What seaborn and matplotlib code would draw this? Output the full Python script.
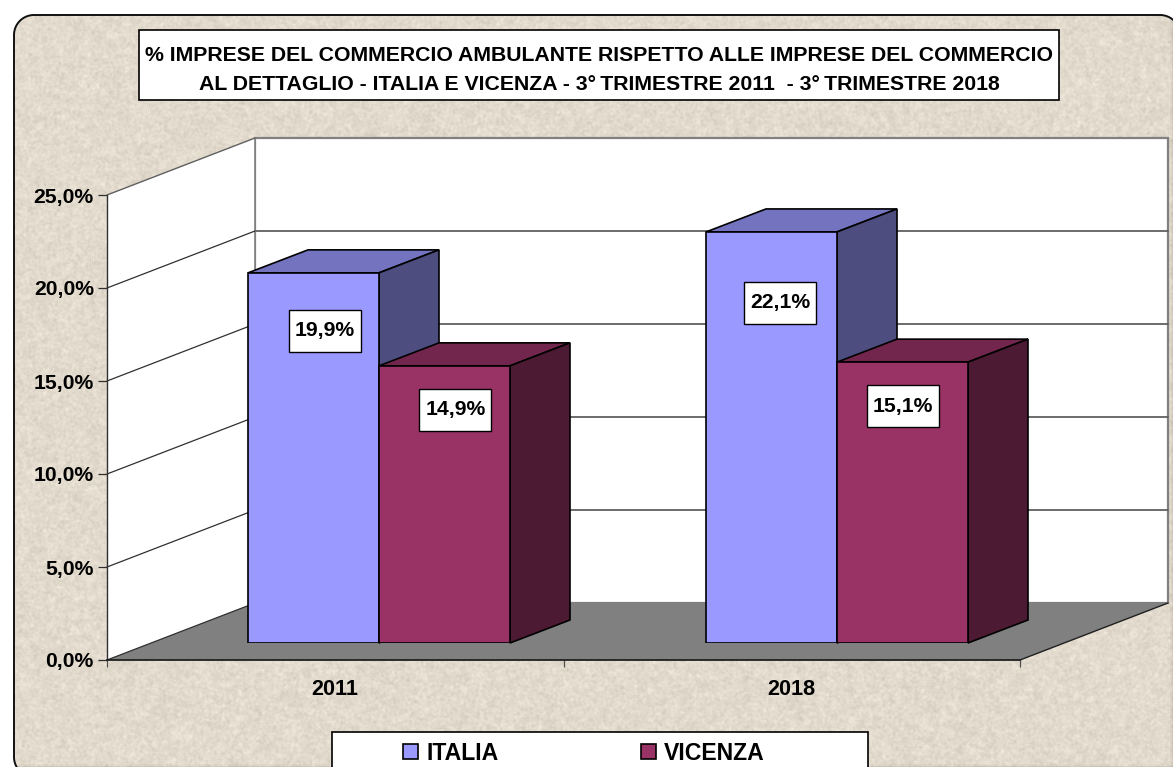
import numpy as np
import pandas as pd
import matplotlib
matplotlib.use('Agg')
import matplotlib.pyplot as plt
import seaborn as sns
from matplotlib.patches import Polygon, Rectangle
from matplotlib.transforms import Affine2D
from matplotlib.colors import to_rgb
from matplotlib.ticker import FuncFormatter

# dati
anni = ['2011', '2018']
italia = [19.9, 22.1]
vicenza = [14.9, 15.1]
aree = ['ITALIA', 'VICENZA']
y_ticks = [0, 5, 10, 15, 20, 25]
titolo = ('% IMPRESE DEL COMMERCIO AMBULANTE RISPETTO ALLE IMPRESE DEL COMMERCIO\n'
          'AL DETTAGLIO - ITALIA E VICENZA - 3°\u2009TRIMESTRE 2011  - 3°\u2009TRIMESTRE 2018')

df = pd.DataFrame({'anno': anni * 2,
                   'quota': italia + vicenza,
                   'area': [aree[0]] * 2 + [aree[1]] * 2})

W, H = 1173, 767
col_it = '#9999FF'
col_vi = '#993366'

sns.set_theme(style='white')
plt.rcParams['font.family'] = ['Liberation Sans', 'DejaVu Sans']
plt.rcParams['font.weight'] = 'bold'

fig = plt.figure(figsize=(W / 100, H / 100), dpi=100, facecolor='white')


def px_axes(x0, x1, y_top, y_bot):
    # axes da coordinate in pixel dell'immagine
    return fig.add_axes([x0 / W, 1 - y_bot / H, (x1 - x0) / W, (y_bot - y_top) / H])


def shift(ax, dx, dy):
    # spostamento in pixel per le facce in prospettiva
    return ax.transData + Affine2D().translate(dx, dy)


def depth(ax, dx, dy):
    # lo stesso spostamento espresso nelle unita' dell'asse
    inv = ax.transData.inverted()
    return inv.transform((dx, dy)) - inv.transform((0, 0))


# sfondo marmorizzato
ax_bg = px_axes(0, W, 0, H)
ax_bg.set_xlim(0, W)
ax_bg.set_ylim(H, 0)
ax_bg.axis('off')


def grana(sx, sy, k):
    yy, xx = np.mgrid[0:H, 0:W]
    n = np.sin(xx * sx + yy * sy) * 43758.5453
    n = n - np.floor(n)
    ker = np.ones(k) / k
    n = np.apply_along_axis(lambda r: np.convolve(r, ker, mode='same'), 1, n)
    n = np.apply_along_axis(lambda r: np.convolve(r, ker, mode='same'), 0, n)
    return (n - n.mean()) / n.std()


def arco(cx, cy, r, a0, a1):
    a = np.radians(np.linspace(a0, a1, 30))
    return np.column_stack([cx + r * np.cos(a), cy + r * np.sin(a)])


tex = 4 * grana(12.9898, 78.233, 3) + 2.5 * grana(4.1414, 31.337, 7)
base = np.array([225, 218, 205], dtype=float)
img = np.clip(base[None, None, :] + tex[:, :, None], 0, 255) / 255
im = ax_bg.imshow(img, extent=(0, W, H, 0), aspect='auto', zorder=0, interpolation='nearest')
ax_bg.set_xlim(0, W)
ax_bg.set_ylim(H, 0)

# cornice arrotondata, l'angolo in basso a destra resta fuori dall'immagine
r = 20
bordo = np.vstack([arco(14 + r, 15 + r, r, 180, 270),
                   arco(1180 - r, 15 + r, r, 270, 360),
                   [(1180, H + 30), (14 + r, H + 30)][:1],
                   arco(14 + r, 777 - r, r, 90, 180)])
frame = Polygon(bordo, closed=False, fc='none', ec='#111111', lw=1.4, zorder=3, clip_on=True)
ax_bg.add_patch(frame)
zona = Polygon(np.vstack([bordo, bordo[:1]]), closed=True, fc='none', ec='none',
               transform=ax_bg.transData)
ax_bg.add_patch(zona)
im.set_clip_path(zona)
ax_bg.plot(*np.vstack([bordo[-1:], bordo[:1]]).T, color='#111111', lw=1.4, zorder=3)

# box del titolo e della legenda
ax_bg.add_patch(Rectangle((139, 30), 920, 70, fc='white', ec='black', lw=1.2, zorder=4))
ax_bg.text(599, 70, titolo, ha='center', va='center', fontsize=15.3, fontweight='bold',
           linespacing=1.62, color='black', zorder=5)
ax_bg.add_patch(Rectangle((332, 732), 536, 60, fc='white', ec='black', lw=1.2, zorder=4))

# piano frontale: assi, pareti e pavimento
ax = px_axes(107, 1020, 195, 660)
ax.set_xlim(-0.5, 1.5)
ax.set_ylim(0, 25)
ax.patch.set_alpha(0)
sns.despine(ax=ax, top=True, right=True)
ax.spines['left'].set_color('#303030')
ax.spines['bottom'].set_color('#202020')
ax.spines['left'].set_linewidth(1)
ax.spines['bottom'].set_linewidth(1.3)
ax.set_yticks(y_ticks)
ax.yaxis.set_major_formatter(FuncFormatter(lambda v, p: f'{v:.1f}%'.replace('.', ',')))
ax.set_xticks([-0.5, 0.5, 1.5])
ax.set_xticklabels([])
ax.set_xticks([0, 1], labels=anni, minor=True)
ax.tick_params(axis='y', left=True, length=6.5, width=0.9, color='#303030', pad=3, labelsize=15.2)
ax.tick_params(axis='x', which='major', bottom=True, length=5, width=0.9, color='#505050')
ax.tick_params(axis='x', which='minor', bottom=True, length=0, pad=14, labelsize=15.6)
for t in ax.get_yticklabels() + ax.get_xticklabels(minor=True):
    t.set_fontweight('bold')
    t.set_color('black')

dx_wall, dy_wall = 148, 57
back = shift(ax, dx_wall, dy_wall)
x0, x1 = ax.get_xlim()
y1 = max(y_ticks)
step = depth(ax, dx_wall, dy_wall)

ax.add_patch(Rectangle((x0, 0), x1 - x0, y1, transform=back, fc='white', ec='#808080', lw=1.6,
                       zorder=0.5, clip_on=False))
ax.add_patch(Polygon([(x0, 0), (x0 + step[0], step[1]), (x0 + step[0], y1 + step[1]), (x0, y1)],
                     fc='white', ec='none', zorder=0.55, clip_on=False))
for v in y_ticks[1:-1]:
    ax.plot([x0, x1], [v, v], transform=back, color='#606060', lw=1.3, zorder=0.6, clip_on=False)
ax.plot([x0, x0], [0, y1], transform=back, color='#808080', lw=1.2, zorder=0.6, clip_on=False)
ax.add_patch(Polygon([(x0, 0), (x1, 0), (x1 + step[0], step[1]), (x0 + step[0], step[1])],
                     fc='#808080', ec='none', zorder=0.7, clip_on=False))
for v in y_ticks[1:-1]:
    ax.plot([x0, x0 + step[0]], [v, v + step[1]], color='#303030', lw=0.9, zorder=0.8, clip_on=False)
ax.plot([x0, x0 + step[0]], [y1, y1 + step[1]], color='#606060', lw=1, zorder=0.8, clip_on=False)
ax.plot([x0, x0 + step[0]], [0, step[1]], color='#303030', lw=0.9, zorder=0.8, clip_on=False)
ax.plot([x1, x1 + step[0]], [0, step[1]], color='#202020', lw=1, zorder=0.8, clip_on=False)

# barre
ax_b = px_axes(150, 1066, 178, 643)
ax_b.patch.set_alpha(0)
sns.barplot(data=df, x='anno', y='quota', hue='area', hue_order=aree, order=anni,
            palette=[col_it, col_vi], width=0.572, gap=0, saturation=1,
            edgecolor='black', linewidth=1.2, legend=False, ax=ax_b)
ax_b.set_xlim(-0.5, 1.5)
ax_b.set_ylim(0, 25)
ax_b.axis('off')

d = depth(ax_b, 60, 23)
bars = sorted([p for p in ax_b.patches if p.get_height() > 0], key=lambda p: p.get_x())


def scura(c, f):
    return tuple(np.array(to_rgb(c)) * f)


# posizione delle etichette rispetto alla cima della barra, in pixel
label_dx = [11.5, 11, 8.5, 0.5]
label_drop = [58, 44, 71, 44]

for i, p in enumerate(bars):
    xl, w, h = p.get_x(), p.get_width(), p.get_height()
    c = col_it if p.get_facecolor()[2] > 0.8 else col_vi
    p.set_zorder(2 * i + 2)
    ax_b.add_patch(Polygon([(xl, h), (xl + w, h), (xl + w + d[0], h + d[1]), (xl + d[0], h + d[1])],
                           fc=scura(c, 0.75), ec='black', lw=1.2, zorder=2 * i + 1, clip_on=False))
    ax_b.add_patch(Polygon([(xl + w, 0), (xl + w + d[0], d[1]), (xl + w + d[0], h + d[1]), (xl + w, h)],
                           fc=scura(c, 0.5), ec='black', lw=1.2, zorder=2 * i + 1, clip_on=False))
    cx, cy = ax_b.transData.transform((xl + w / 2, h)) + (label_dx[i], -label_drop[i])
    ax_b.add_patch(Rectangle((-36, -21), 72, 42, transform=Affine2D().translate(cx, cy),
                             fc='white', ec='black', lw=1, zorder=19, clip_on=False))
    ax_b.annotate(f'{h:.1f}%'.replace('.', ','), xy=(xl + w / 2, h),
                  xytext=(label_dx[i] * 0.72, -label_drop[i] * 0.72), textcoords='offset points',
                  ha='center', va='center', fontsize=15.2, fontweight='bold', color='black', zorder=20)

# legenda
handles = [Rectangle((0, 0), 1, 1, fc=col_it, ec='black', lw=1.2),
           Rectangle((0, 0), 1, 1, fc=col_vi, ec='black', lw=1.2)]
fig.legend(handles, aree, ncols=2, frameon=False, loc='center',
           bbox_to_anchor=(584 / W, 1 - 753 / H), labelcolor='black',
           handlelength=0.65, handleheight=0.65, handletextpad=0.35, columnspacing=6.2,
           borderpad=0, prop={'weight': 'bold', 'size': 16.6, 'family': ['Liberation Sans']})

fig.savefig('out.png', dpi=100)
